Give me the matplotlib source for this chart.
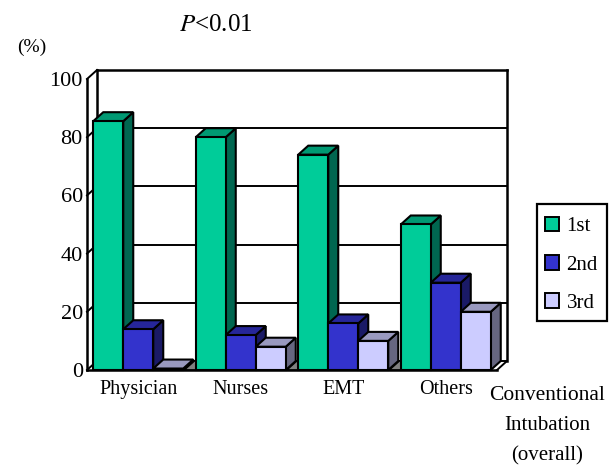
from matplotlib import pyplot as plt
from matplotlib.patches import Polygon, Patch, Rectangle
import numpy as np

plt.rcParams['font.family'] = ['Liberation Serif', 'DejaVu Serif']

categories = ["Physician", "Nurses", "EMT", "Others"]
series_names = ["1st", "2nd", "3rd"]
first = [85.5, 80, 74, 50]
second = [14, 12, 16, 30]
third = [0.5, 8, 10, 20]
y_ticks = [0, 20, 40, 60, 80, 100]

front_colors = ["#00CC99", "#3333CC", "#CCCCFF"]
top_colors = ["#009973", "#262699", "#9999BF"]
side_colors = ["#006650", "#1A1A66", "#666680"]

W, H = 610, 465
fig = plt.figure(figsize=(W / 100, H / 100), dpi=100)
ax = fig.add_axes([87 / W, (H - 370) / H, 410 / W, 291 / H])
ax.set_xlim(0, 4)
ax.set_ylim(0, 100)

# depth of the fake 3d box, in data units (10px right, 9px up)
dx = 10 / 102.5
dy = 9 / 2.91
bar_w = 30 / 102.5
LW = 1.5

ax.patch.set_visible(False)
for s in ["top", "right"]:
    ax.spines[s].set_visible(False)
for s in ["left", "bottom"]:
    ax.spines[s].set_linewidth(1.8)

# back wall and grid
for v in y_ticks:
    lw = 1.8 if v == 100 else 1.4
    ax.plot([dx, 4 + dx], [v + dy, v + dy], color="black", lw=lw, zorder=0.5, clip_on=False)
    ax.plot([0, dx], [v, v + dy], color="black", lw=1.4, zorder=0.5, clip_on=False)
ax.plot([dx, dx], [dy, 100 + dy], color="black", lw=1.8, zorder=0.5, clip_on=False)
ax.plot([4 + dx, 4 + dx], [dy, 100 + dy], color="black", lw=1.8, zorder=0.5, clip_on=False)
ax.plot([4, 4 + dx], [0, dy], color="black", lw=1.4, zorder=0.5, clip_on=False)

values = [first, second, third]
for g in range(len(categories)):
    # bit of floor showing between the groups
    if g < 3:
        ax.add_patch(Polygon([(g + 0.95, 0), (g + 0.95 + dx, dy), (g + 1.06 + dx, dy), (g + 1.06, 0)],
                             closed=True, facecolor="#808080", edgecolor="black", lw=1.0,
                             zorder=1, clip_on=False))
    for k in range(3):
        x0 = g + 0.5 + (k - 1.5) * bar_w
        x1 = x0 + bar_w
        v = values[k][g]
        ax.add_patch(Polygon([(x1, 0), (x1 + dx, dy), (x1 + dx, v + dy), (x1, v)], closed=True,
                             facecolor=side_colors[k], edgecolor="black", lw=LW, zorder=1, clip_on=False))
        ax.add_patch(Polygon([(x0, v), (x0 + dx, v + dy), (x1 + dx, v + dy), (x1, v)], closed=True,
                             facecolor=top_colors[k], edgecolor="black", lw=LW, zorder=1, clip_on=False))
        ax.bar(x0, v, width=bar_w, align="edge", color=front_colors[k], edgecolor="black",
               linewidth=LW, zorder=1, clip_on=False)

ax.set_yticks(y_ticks)
ax.set_yticklabels([str(v) for v in y_ticks], fontsize=16)
ax.tick_params(axis="y", length=0, pad=3)
ax.set_xticks(np.arange(4) + 0.5)
ax.set_xticklabels(categories, fontsize=14.5)
ax.tick_params(axis="x", length=0, pad=7)

fig.text(547 / W, 1 - 396 / H, "Conventional", fontsize=15.5, ha="center", va="center")
fig.text(547 / W, 1 - 425 / H, "Intubation", fontsize=15, ha="center", va="center")
fig.text(547 / W, 1 - 456 / H, "(overall)", fontsize=15, ha="center", va="center")
fig.text(32 / W, 1 - 47 / H, "(%)", fontsize=14, ha="center", va="center")
fig.text(216 / W, 1 - 25 / H, r"$\mathit{P}$<0.01", fontsize=18, ha="center", va="center",
         math_fontfamily="stix")

# legend box is drawn apart so its padding can differ in x and y
fig.add_artist(Rectangle((537 / W, 1 - 321 / H), 70 / W, 117 / H, transform=fig.transFigure,
                         facecolor="white", edgecolor="black", linewidth=1.6))
handles = [Patch(facecolor=c, edgecolor="black", linewidth=1.4) for c in front_colors]
leg = fig.legend(handles, series_names, loc="upper left", bbox_to_anchor=(545 / W, 1 - 217 / H),
                 fontsize=15, frameon=False, borderpad=0, labelspacing=0.9, handlelength=0.68,
                 handleheight=0.68, handletextpad=0.35, borderaxespad=0)

fig.savefig("out.png", dpi=100)
